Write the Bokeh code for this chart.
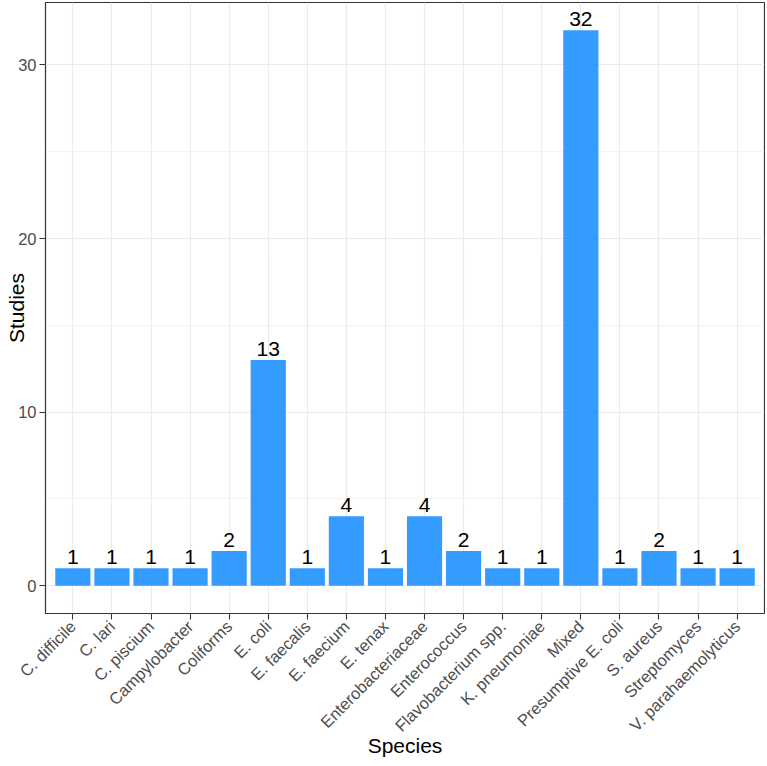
import math
from bokeh.plotting import figure
from bokeh.models import FactorRange, Range1d, FixedTicker, ColumnDataSource
from bokeh.embed import file_html
from bokeh.resources import INLINE
from bokeh.core.properties import value

species = ["C. difficile", "C. lari", "C. piscium", "Campylobacter", "Coliforms",
           "E. coli", "E. faecalis", "E. faecium", "E. tenax", "Enterobacteriaceae",
           "Enterococcus", "Flavobacterium spp.", "K. pneumoniae", "Mixed",
           "Presumptive E. coli", "S. aureus", "Streptomyces", "V. parahaemolyticus"]
studies = [1, 1, 1, 1, 2, 13, 1, 4, 1, 4, 2, 1, 1, 32, 1, 2, 1, 1]
y_ticks = [0, 10, 20, 30]
y_minor = [5, 15, 25]

FONT = "Liberation Sans"

src = ColumnDataSource(dict(species=species, studies=studies,
                            label=[str(v) for v in studies]))

p = figure(
    x_range=FactorRange(factors=species, range_padding=0.2, range_padding_units="absolute"),
    y_range=Range1d(-1.6, 33.6),
    width=765, height=766,
    min_border_left=45, min_border_right=1, min_border_top=2, min_border_bottom=153,
    output_backend="svg", toolbar_location=None,
    x_axis_label="Species", y_axis_label="Studies",
)
p.background_fill_color = "white"
p.border_fill_color = "white"
p.outline_line_color = "#333333"
p.outline_line_width = 1.2

p.vbar(x="species", top="studies", bottom=0, width=0.9, source=src,
       fill_color="#1E90FF", fill_alpha=0.9, line_color=None)

p.text(x="species", y="studies", text="label", source=src,
       text_align="center", text_baseline="alphabetic", y_offset=-11,
       text_font=value(FONT), text_font_size="21px", text_color="black")

# grids
p.xgrid.grid_line_color = "#EBEBEB"
p.xgrid.grid_line_width = 1.1
p.ygrid.grid_line_color = "#EBEBEB"
p.ygrid.grid_line_width = 1.1
p.ygrid.minor_grid_line_color = "#EBEBEB"
p.ygrid.minor_grid_line_width = 0.6
p.yaxis.ticker = FixedTicker(ticks=y_ticks, minor_ticks=y_minor)

# axes
for ax in (p.xaxis, p.yaxis):
    ax.axis_line_color = None
    ax.major_tick_line_color = "#333333"
    ax.major_tick_line_width = 1.1
    ax.major_tick_in = 0
    ax.major_tick_out = 6
    ax.minor_tick_line_color = None
    ax.major_label_text_font = FONT
    ax.major_label_text_font_size = "16.5px"
    ax.major_label_text_color = "#4D4D4D"
    ax.major_label_standoff = 3
    ax.axis_label_text_font = FONT
    ax.axis_label_text_font_size = "21px"
    ax.axis_label_text_font_style = "normal"
    ax.axis_label_text_color = "black"
p.xaxis.major_label_standoff = 4
p.yaxis.axis_label_standoff = -13
p.xaxis.axis_label_standoff = -10
p.xaxis.major_label_orientation = math.pi / 4

open("out.html", "w").write(file_html(p, INLINE))
